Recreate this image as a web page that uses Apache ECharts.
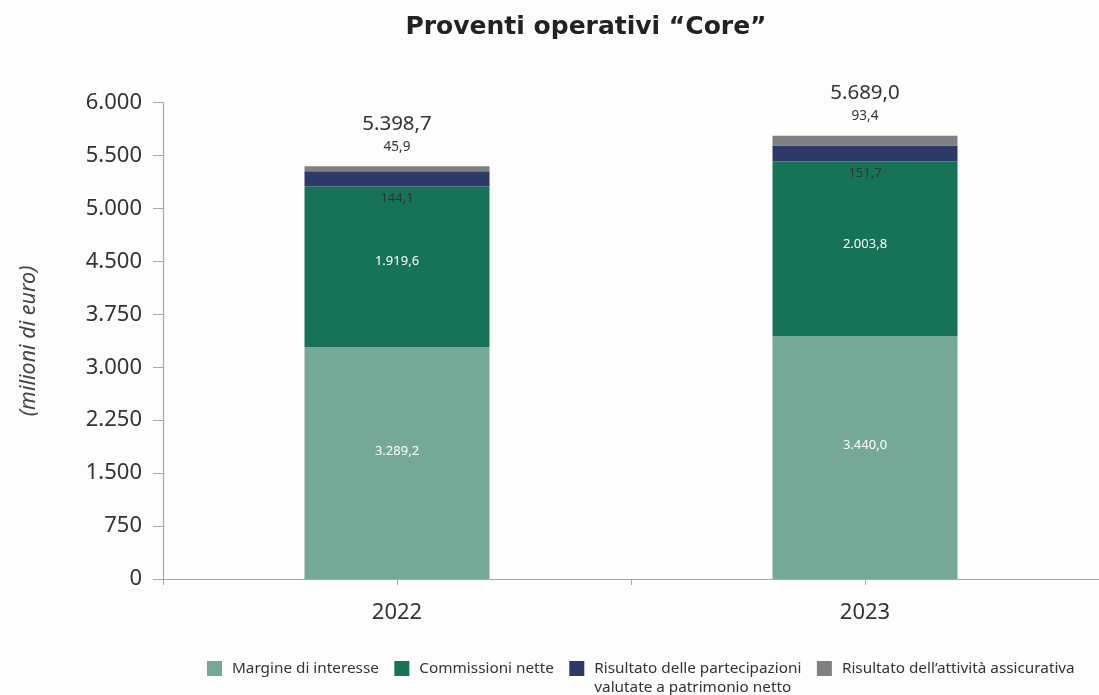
<!DOCTYPE html>
<html>
<head>
<meta charset="utf-8">
<script src="https://cdn.jsdelivr.net/npm/echarts@6/dist/echarts.min.js"></script>
<style>
  html, body { margin: 0; padding: 0; background: #fdfdfb; }
  #chart { width: 1099px; height: 695px; }
</style>
</head>
<body>
<div id="chart"></div>
<script>
// Categories and values (milioni di euro)
const years = ['2022', '2023'];
const margine = [3289.2, 3440.0];
const commissioni = [1919.6, 2003.8];
const partecipazioni = [144.1, 151.7];
const assicurativa = [45.9, 93.4];
const totali = [5398.7, 5689.0];

// The value axis is split in uneven steps: 750 up to 4.500, then 500
const tickValues = [0, 750, 1500, 2250, 3000, 3750, 4500, 5000, 5500, 6000];
const tickLabels = ['0', '750', '1.500', '2.250', '3.000', '3.750', '4.500', '5.000', '5.500', '6.000'];

const seriesNames = [
  'Margine di interesse',
  'Commissioni nette',
  'Risultato delle partecipazioni valutate a patrimonio netto',
  'Risultato dell\u2019attività assicurativa'
];
// Legend text, with the long entry wrapped on two lines below its marker
const legendText = {
  'Risultato delle partecipazioni valutate a patrimonio netto':
    ' \nRisultato delle partecipazioni\nvalutate a patrimonio netto'
};
const colors = ['#74a898', '#177358', '#2d3a69', '#7e8084'];

// Map a value onto the piecewise tick scale (one unit per tick step)
function toAxis(v) {
  for (let i = 0; i < tickValues.length - 1; i++) {
    const a = tickValues[i], b = tickValues[i + 1];
    if (v <= b || i === tickValues.length - 2) {
      return i + (v - a) / (b - a);
    }
  }
  return 0;
}

// Italian number format: 5.398,7
function fmt(v) {
  const s = v.toFixed(1);
  const [intPart, dec] = s.split('.');
  return intPart.replace(/\B(?=(\d{3})+(?!\d))/g, '.') + ',' + dec;
}

// Stacked segments: each segment's height is the difference of mapped cumulative sums
const layers = [margine, commissioni, partecipazioni, assicurativa];
const segData = layers.map(() => []);
years.forEach((y, j) => {
  let cum = 0;
  layers.forEach((arr, k) => {
    const lo = toAxis(cum);
    cum += arr[j];
    const hi = toAxis(cum);
    segData[k].push({ value: hi - lo, raw: arr[j], total: totali[j] });
  });
});

const FONT = '"Noto Sans", "Open Sans", sans-serif';

const labelCfg = [
  { show: true, position: 'inside', offset: [0, -12], color: '#ffffff', fontSize: 13, fontFamily: FONT,
    formatter: p => fmt(p.data.raw) },
  { show: true, position: 'inside', offset: [0, -5], color: '#ffffff', fontSize: 13, fontFamily: FONT,
    formatter: p => fmt(p.data.raw) },
  { show: true, position: 'bottom', distance: 5, color: '#333333', fontSize: 13, fontFamily: FONT,
    formatter: p => fmt(p.data.raw) },
  { show: true, position: 'top', distance: 9, fontFamily: FONT,
    formatter: p => '{t|' + fmt(p.data.total) + '}\n{v|' + fmt(p.data.raw) + '}',
    rich: {
      t: { fontSize: 20.5, lineHeight: 26, color: '#333333', fontFamily: FONT },
      v: { fontSize: 13.5, lineHeight: 20, color: '#333333', fontFamily: FONT }
    } }
];

const series = seriesNames.map((name, k) => ({
  name: name,
  type: 'bar',
  stack: 'core',
  barWidth: 185,
  itemStyle: { color: colors[k] },
  label: labelCfg[k],
  data: segData[k]
}));

const chart = echarts.init(document.getElementById('chart'), null, { renderer: 'canvas' });
chart.setOption({
  backgroundColor: '#fdfdfb',
  animation: false,
  title: {
    text: 'Proventi operativi \u201CCore\u201D',
    left: 581,
    top: 10,
    textAlign: 'center',
    textStyle: { fontFamily: '"DejaVu Sans", sans-serif', fontSize: 25, fontWeight: 'bold', color: '#222222' }
  },
  legend: {
    left: 207,
    top: 640,
    width: 890,
    padding: 0,
    itemWidth: 15,
    itemHeight: 15,
    itemGap: 15.5,
    icon: 'rect',
    formatter: n => legendText[n] || n,
    textStyle: { fontFamily: FONT, fontSize: 15.3, color: '#333333', lineHeight: 19, padding: [0, 0, 0, 5] },
    data: seriesNames
  },
  grid: { left: 163, top: 102.7, width: 944, height: 476.3, containLabel: false },
  xAxis: [
    {
      type: 'category',
      data: years,
      axisLine: { lineStyle: { color: '#a8a8ac', width: 1.2 } },
      axisTick: { show: true, alignWithLabel: true, length: 6, lineStyle: { color: '#a8a8ac' } },
      axisLabel: { fontFamily: FONT, fontSize: 22, color: '#333333', margin: 23 }
    },
    {
      type: 'category',
      data: years,
      position: 'bottom',
      axisLine: { show: false },
      axisTick: { show: true, length: 6, lineStyle: { color: '#a8a8ac' } },
      axisLabel: { show: false }
    }
  ],
  yAxis: {
    type: 'value',
    min: 0,
    max: tickValues.length - 1,
    interval: 1,
    name: '(milioni di euro)',
    nameLocation: 'middle',
    nameGap: 123,
    nameTextStyle: { fontFamily: FONT, fontSize: 21.5, fontStyle: 'italic', color: '#444444' },
    axisLine: { show: true, lineStyle: { color: '#a8a8ac', width: 1.2 } },
    axisTick: { show: true, length: 10, lineStyle: { color: '#a8a8ac' } },
    splitLine: { show: false },
    axisLabel: {
      fontFamily: FONT, fontSize: 22, color: '#333333', margin: 21,
      formatter: v => tickLabels[v]
    }
  },
  series: series
});
</script>
</body>
</html>
